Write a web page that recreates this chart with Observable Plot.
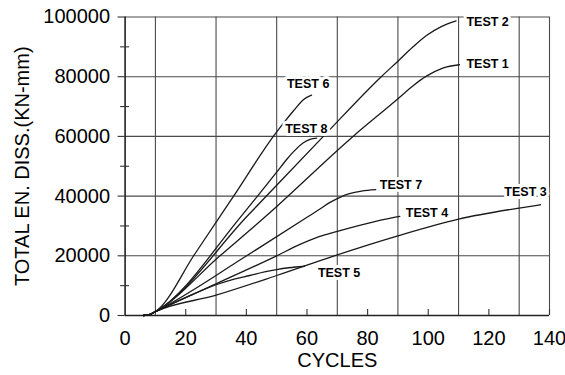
<!DOCTYPE html>
<html><head><meta charset="utf-8">
<script src="https://cdn.jsdelivr.net/npm/d3@7"></script>
<script src="https://cdn.jsdelivr.net/npm/@observablehq/plot@0.6"></script>
<style>
html,body{margin:0;padding:0;background:#fff;}
#chart{width:565px;height:375px;}
svg{display:block;}
</style></head><body><div id="chart"></div>
<script>
// ---- data ----
const testNames = ["TEST 1","TEST 2","TEST 3","TEST 4","TEST 5","TEST 6","TEST 7","TEST 8"];
const test1 = [[6,0],[8,300],[10,1300],[31.3,20000],[46.6,33400],[75.2,60000],[90,72600],[95,77000],[99.4,80200],[104.8,82900],[110.3,84000]];
const test2 = [[6,0],[8,300],[10,1300],[40.4,33400],[65.4,60000],[84.5,80000],[90,85200],[95,90000],[99.4,93800],[104.3,96800],[109.2,98700]];
const test3 = [[6,0],[8,300],[10,1300],[30,6800],[50,13400],[69,20000],[90,26700],[110,32300],[130,36000],[137,37100]];
const test4 = [[6,0],[8,300],[10,1300],[30,10600],[50,20000],[57.7,23800],[64,26400],[70,28200],[73.9,29300],[80,30900],[86,32300],[90.6,33200]];
const test5 = [[6,0],[8,300],[10,1300],[20,6000],[30,10300],[36,12200],[41.1,13400],[46,14600],[50,15400],[54,16000],[59.2,16500]];
const test6 = [[6,0],[8,300],[10,1300],[23,20600],[35.8,40000],[48.9,60000],[52.5,64800],[55.5,68500],[58.8,72300],[61.5,73800]];
const test7 = [[6,0],[8,300],[10,1300],[40.1,20000],[60.8,33400],[64,35500],[67.6,37900],[70.9,39600],[74,40800],[78,41700],[82.7,42200]];
const test8 = [[6,0],[8,300],[10,1300],[38.4,33400],[50,48000],[53.5,52500],[55.5,54800],[58.8,57900],[61,59000],[63.2,59400]];
const series = [test1,test2,test3,test4,test5,test6,test7,test8];

// label anchors (left edge, centre line) in data units
const labelX = [112.6,112.6,125.1,92.6,63.6,53.4,84.0,52.8];
const labelY = [84300,98400,41400,34500,14200,77700,43600,62600];

// axes
const xTickLabels = [0,20,40,60,80,100,120,140];
const xTickMarks = [20,40,60,80,100,120,140];
const xGrid = [10,30,50,70,90,110,130,140];
const yTickLabels = [0,20000,40000,60000,80000,100000];
const yMinorTicks = [10000,30000,50000,70000,90000];
const yGrid = [20000,40000,60000,80000,100000];
const xTitle = "CYCLES";
const yTitle = "TOTAL EN. DISS.(KN-mm)";

// ---- build tables ----
const rows = series.flatMap((s,i)=>s.map(([x,y])=>({name:testNames[i],x,y})));
const labels = testNames.map((name,i)=>({name,x:labelX[i],y:labelY[i]}));

const font = "'Liberation Sans', Arial, Helvetica, sans-serif";
const chart = Plot.plot({
  width:565, height:375,
  marginTop:16.5, marginRight:16, marginBottom:60, marginLeft:124.6,
  style:{fontFamily:font, background:"#fff", color:"#000", overflow:"visible"},
  x:{domain:[0,140], axis:null},
  y:{domain:[0,100000], axis:null},
  marks:[
    Plot.ruleX(xGrid, {stroke:"#4a4a4a", strokeWidth:1.1}),
    Plot.ruleY(yGrid, {stroke:"#4a4a4a", strokeWidth:1.1}),
    Plot.ruleX([0], {stroke:"#222", strokeWidth:1.6}),
    Plot.ruleY([0], {stroke:"#222", strokeWidth:1.6}),
    Plot.axisY({ticks:yTickLabels, label:null, tickSize:7, tickPadding:8, fontSize:20, tickFormat:d3.format("d"), stroke:"#333", strokeWidth:1.1}),
    Plot.axisY({ticks:yMinorTicks, label:null, tickSize:9, dx:4.5, tickFormat:()=>"", stroke:"#333", strokeWidth:1.1}),
    Plot.axisX({ticks:xTickMarks, label:null, tickSize:6, dy:-6, tickFormat:()=>"", stroke:"#333", strokeWidth:1.1}),
    Plot.axisX({ticks:xTickLabels, label:null, tickSize:0, tickPadding:15, fontSize:20, tickFormat:d3.format("d")}),
    Plot.line(rows, {x:"x", y:"y", z:"name", curve:"monotone-x", stroke:"#1a1a1a", strokeWidth:1.3}),
    Plot.text(labels, {x:"x", y:"y", text:"name", textAnchor:"start", fontWeight:"bold", fontSize:12.5,
      fill:"#000", stroke:"#fff", strokeWidth:6, paintOrder:"stroke"}),
    Plot.text([xTitle], {frameAnchor:"bottom", dy:45, lineAnchor:"middle", textAnchor:"middle", fontSize:20, fill:"#000"}),
    Plot.text([yTitle], {frameAnchor:"left", dx:-103, rotate:-90, lineAnchor:"middle", textAnchor:"middle", fontSize:20, fill:"#000"})
  ]
});
document.getElementById("chart").appendChild(chart);
</script>
</body></html>
